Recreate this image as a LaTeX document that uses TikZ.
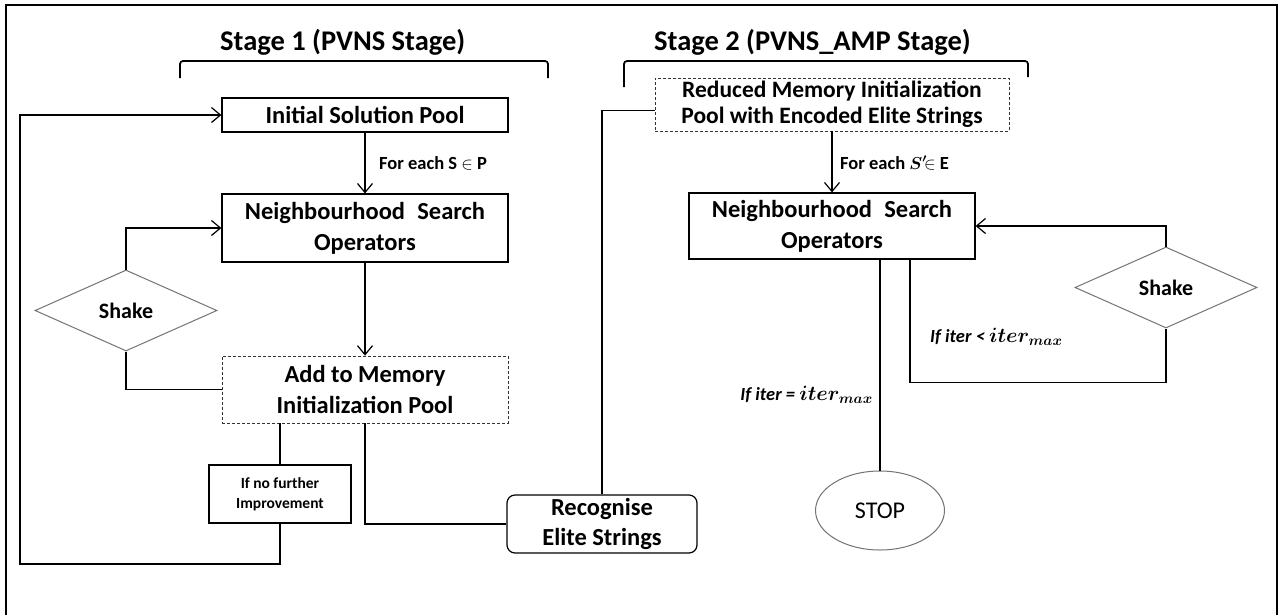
\documentclass[tikz,border=0pt]{standalone}
\usepackage{fontspec}
\setmainfont{Carlito}
\usetikzlibrary{arrows.meta,shapes.geometric,calc}

\newcommand\bxfont{\bfseries\fontsize{24.5}{31}\selectfont}
\newcommand\lblfont{\bfseries\fontsize{18.5}{22}\selectfont}
\newcommand\itermax{{\fontsize{21}{22}\selectfont\boldmath$iter_{max}$}}

\begin{document}
\begin{tikzpicture}[x=1pt,y=-1pt,
  conn/.style={line width=1.4pt,black},
  arr/.style={conn,-{Straight Barb[length=9pt,width=15pt,line width=1.2pt]}},
  box/.style={draw=black,line width=1.2pt,minimum width=286pt,inner sep=0pt,align=center,font=\bxfont},
  dbox/.style={box,draw=black!80,line width=0.8pt,dash pattern=on 3pt off 2pt},
  shake/.style={diamond,draw=black!55,line width=1pt,minimum width=182pt,minimum height=81pt,inner sep=0pt,aspect=2.25,font=\bfseries\fontsize{22}{26}\selectfont},
  lbl/.style={inner sep=0pt,font=\lblfont},
  title/.style={inner sep=0pt,font=\bfseries\fontsize{28.5}{32}\selectfont},
  brace/.style={line width=1.8pt,rounded corners=3pt}
]
\clip (0,0) rectangle (1286,614);
\fill[white] (0,0) rectangle (1286,614);
% outer frame, open at the bottom edge of the page
\draw[line width=2.6pt] (6,5) rectangle (1277,640);

% stage headings with their brackets
\node[title,anchor=base west] (t1) at (220,50) {Stage 1 (PVNS Stage)};
\node[title,anchor=base west] (t2) at (654,50) {Stage 2 (PVNS\_AMP Stage)};
\draw[brace] (180,78) -- (180,61) -- (548,61) -- (548,78);
\draw[brace] (624,87) -- (624,61) -- (1028,61) -- (1028,77);

% stage 1
\node[box,minimum height=34pt] (init) at (365,115) {Initial Solution Pool};
\node[box,minimum height=68pt] (nsoL) at (365,228) {Neighbourhood\enspace Search\\Operators};
\node[dbox,minimum height=67pt] (add) at (365,389.5) {Add to Memory\\Initialization Pool};
\node[shake] (shL) at (126,310.5) {Shake};
\node[draw=black,line width=1.2pt,minimum width=142pt,minimum height=58pt,inner sep=0pt,align=center,
      font=\bfseries\fontsize{15.5}{20}\selectfont] (ifno) at (280,494) {If no further\\Improvement};
\node[box,minimum width=190pt,minimum height=58pt,rounded corners=8pt,font=\bfseries\fontsize{24.5}{30}\selectfont]
      (rec) at (602,524) {Recognise\\Elite Strings};

% stage 2
\node[dbox,minimum width=354pt,minimum height=53pt,font=\bfseries\fontsize{23.5}{26}\selectfont]
      (red) at (832,104.5) {Reduced Memory Initialization\\Pool with Encoded Elite Strings};
\node[box,minimum height=66pt] (nsoR) at (832,226) {Neighbourhood\enspace Search\\Operators};
\node[shake] (shR) at (1166,287.5) {Shake};
\node[ellipse,draw=black!55,line width=1pt,minimum width=129pt,minimum height=79pt,inner sep=0pt,
      font=\fontsize{24}{28}\selectfont] (stop) at (880,510.5) {STOP};

% labels
\node[lbl,anchor=west] (lab1) at (379,163) {For each S $\in$ P};
\node[lbl,anchor=west] (lab2) at (840,163) {For each {\boldmath$S'$}$\!\in$ E};
\node[lbl,anchor=east] (lab3) at (873,395) {\itshape If iter = \itermax};
\node[lbl,anchor=west] (lab4) at (930,337) {\itshape If iter < \itermax};

% stage 1 connectors
\coordinate (loop) at (20,564);
\draw[arr] (init) -- (nsoL);
\draw[arr] (nsoL) -- (add);
\draw[arr] (shL.north) |- (nsoL.west);
\draw[conn] (shL.south) |- (add.west);
\draw[conn] (ifno.north |- add.south) -- (ifno.north);
\draw[arr] (ifno.south) |- (loop) |- (init.west);
\draw[conn] (add.south) |- (rec.west);
\draw[conn] (rec.north) |- ($(red.west)+(0,6)$);

% stage 2 connectors
\draw[arr] (red.south) -- (nsoR.north);
\draw[arr] (shR.north) |- (nsoR.east);
\draw[conn] ($(nsoR.south)+(78,0)$) -- ++(0,123) -| (shR.south);
\draw[conn] (stop.north |- nsoR.south) -- (stop.north);
\end{tikzpicture}
\end{document}
